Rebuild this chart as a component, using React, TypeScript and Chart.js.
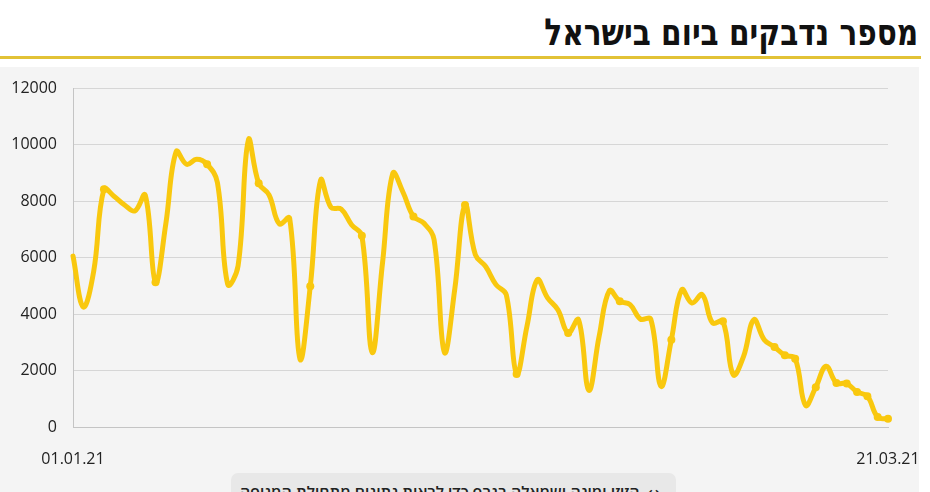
import React, { useEffect, useRef } from "react";
import { Chart, registerables } from "chart.js";

Chart.register(...registerables);

// ---- data ----
const START_DATE_UTC = Date.UTC(2021, 0, 1);
const VALUES = [
  6050, 4250, 5500, 8420, 8160, 7860, 7650, 8210, 5120, 7200,
  9750, 9300, 9480, 9300, 8650, 5050, 5700, 10160, 8630, 8220,
  7190, 7390, 2410, 4980, 8740, 7780, 7710, 7160, 6770, 2640,
  5800, 8980, 8300, 7450, 7220, 6630, 2640, 4860, 7860, 6100,
  5680, 5040, 4680, 1880, 3560, 5210, 4570, 4150, 3330, 3800,
  1300, 3210, 4830, 4450, 4330, 3820, 3820, 1440, 3090, 4860,
  4390, 4680, 3680, 3740, 1850, 2500, 3800, 3090, 2830, 2540,
  2420, 770, 1410, 2150, 1560, 1540, 1240, 1090, 350, 290,
];
const MARKED_DAYS = [3, 8, 13, 18, 23, 28, 33, 38, 43, 48, 53, 58, 63, 68, 69, 70, 72, 74, 75, 76, 77, 78, 79];
const Y_MIN = 0;
const Y_MAX = 12000;
const Y_STEP = 2000;
const TITLE = "מספר נדבקים ביום בישראל";
const HINT = "הזיזו ימינה ושמאלה בגרף כדי לראות נתונים מתחילת המגיפה";

const YELLOW = "#f9c80e";

function pad2(n: number) {
  return n < 10 ? "0" + n : String(n);
}

function makeLabels(n: number): string[] {
  const out: string[] = [];
  for (let i = 0; i < n; i++) {
    const d = new Date(START_DATE_UTC + i * 86400000);
    out.push(pad2(d.getUTCDate()) + "." + pad2(d.getUTCMonth() + 1) + "." + String(d.getUTCFullYear()).slice(2));
  }
  return out;
}

export default function App() {
  const ref = useRef<HTMLCanvasElement>(null);

  useEffect(() => {
    document.body.style.margin = "0";
    const labels = makeLabels(VALUES.length);
    const lastIdx = labels.length - 1;
    const tickFont = { family: "'Open Sans', sans-serif", size: 16, weight: 500 as any };
    const chart = new Chart(ref.current as HTMLCanvasElement, {
      type: "line",
      data: {
        labels,
        datasets: [
          {
            data: VALUES,
            borderColor: YELLOW,
            borderWidth: 5,
            tension: 0.4,
            fill: false,
            pointRadius: VALUES.map((_, i) => (MARKED_DAYS.includes(i) ? 4 : 0)),
            pointBackgroundColor: YELLOW,
            pointBorderWidth: 0,
            pointHoverRadius: 0,
            borderCapStyle: "round",
            borderJoinStyle: "round",
          },
        ],
      },
      options: {
        animation: false,
        responsive: false,
        maintainAspectRatio: false,
        layout: { padding: { top: 21, right: 37, left: 0, bottom: 0 } },
        plugins: { legend: { display: false }, tooltip: { enabled: false } },
        scales: {
          x: {
            grid: { display: false },
            border: { display: true, color: "#c4c4c4" },
            ticks: {
              autoSkip: false,
              maxRotation: 0,
              minRotation: 0,
              padding: 15,
              color: "#222",
              font: tickFont,
              callback: (_v: any, i: number) => (i === 0 || i === lastIdx ? labels[i] : ""),
            },
            afterFit: (s: any) => {
              s.height = 45;
              s.paddingLeft = 0;
              s.paddingRight = 0;
            },
          },
          y: {
            min: Y_MIN,
            max: Y_MAX,
            ticks: {
              stepSize: Y_STEP,
              padding: 16,
              color: "#222",
              font: tickFont,
              callback: (v: any) => String(v),
            },
            grid: { color: "#d6d6d6", drawTicks: false },
            border: { display: true, color: "#c4c4c4" },
            afterFit: (s: any) => {
              s.width = 73;
              s.paddingTop = 0;
              s.paddingBottom = 0;
            },
          },
        },
      },
    });
    return () => chart.destroy();
  }, []);

  return (
    <div style={{ position: "fixed", left: 0, top: 0, width: 930, height: 492, overflow: "hidden", background: "#fff" }}>
      <div
        dir="rtl"
        style={{
          position: "absolute",
          right: 12,
          top: 10,
          fontFamily: "'DejaVu Sans Condensed', 'DejaVu Sans', sans-serif",
          fontWeight: 700,
          fontSize: 37,
          lineHeight: "46px",
          color: "#111",
          whiteSpace: "nowrap",
          transform: "scaleX(0.89)",
          transformOrigin: "right center",
        }}
      >
        {TITLE}
      </div>
      <div style={{ position: "absolute", left: 0, top: 56, width: 921, height: 3, background: "#e2c236" }} />
      <div style={{ position: "absolute", left: 0, top: 67, width: 919, height: 425, background: "#f4f4f4" }} />
      <canvas
        ref={ref}
        width={925}
        height={405}
        style={{ position: "absolute", left: 0, top: 67, width: 925, height: 405, display: "block" }}
      />
      <div
        dir="rtl"
        style={{
          position: "absolute",
          left: 231,
          top: 473,
          width: 445,
          height: 40,
          borderRadius: 7,
          background: "#e8e8e8",
          boxSizing: "border-box",
          paddingRight: 16,
          paddingTop: 8,
          fontFamily: "'Open Sans', 'DejaVu Sans', sans-serif",
          fontWeight: 600,
          fontSize: 16,
          color: "#222",
          whiteSpace: "nowrap",
        }}
      >
        <span style={{ marginLeft: 8, fontSize: 15 }}>↔</span>
        {HINT}
      </div>
    </div>
  );
}
